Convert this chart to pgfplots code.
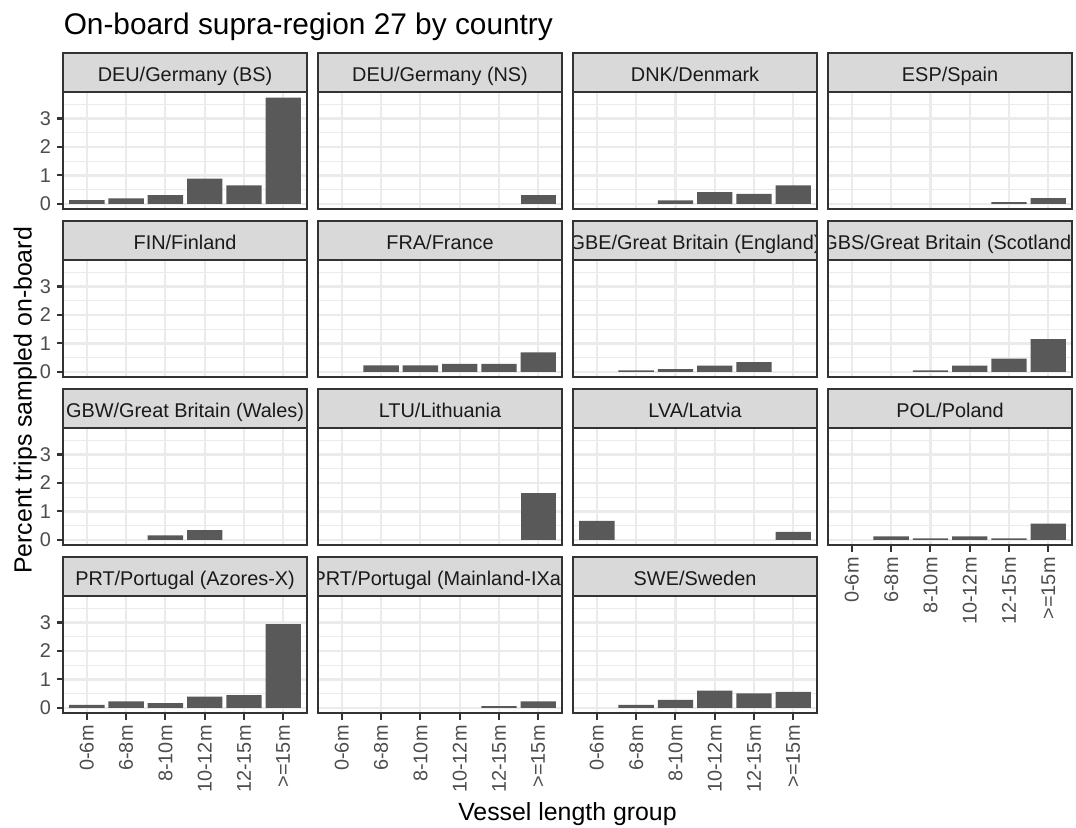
\documentclass[border=0pt]{standalone}
\usepackage{pgfplots}
\pgfplotsset{compat=1.18}
\usepackage{fontspec}
\setmainfont{Liberation Sans}
\definecolor{grid92}{HTML}{EBEBEB}
\definecolor{grey20}{HTML}{333333}
\definecolor{grey30}{HTML}{4D4D4D}
\definecolor{grey10}{HTML}{1A1A1A}
\definecolor{strip85}{HTML}{D9D9D9}
\definecolor{bar35}{HTML}{595959}
\newcommand{\tickfont}{\fontsize{8.8}{10}\selectfont}
\pgfplotsset{
  panel/.style={
    scale only axis, width=107.75pt, height=51.77pt,
    anchor=south west,
    xmin=0.4, xmax=6.6, ymin=-0.19, ymax=3.92,
    xtick={1,2,3,4,5,6}, ytick={0,1,2,3}, minor ytick={0.5,1.5,2.5,3.5},
    grid=both,
    major grid style={color=grid92, line width=0.95pt},
    minor grid style={color=grid92, line width=0.5pt},
    axis line style={draw=grey20, line width=0.9pt},
    xticklabels={}, yticklabels={},
    tick pos=left, tick align=outside, major tick length=2.75pt, minor tick length=0pt,
    xtick style={draw=none}, ytick style={draw=none}, minor tick style={draw=none},
    tick label style={font=\tickfont, text=grey30},
  },
  xlab/.style={
    xtick style={draw=grey20, line width=0.9pt},
    xticklabels={0-6m,6-8m,8-10m,10-12m,12-15m,>=15m},
    x tick label style={rotate=90, anchor=east, inner sep=0pt, xshift=-2.4pt},
  },
  ylab/.style={
    ytick style={draw=grey20, line width=0.9pt},
    yticklabels={0,1,2,3},
    y tick label style={anchor=east, inner sep=0pt, xshift=-2.5pt},
  },
  strip/.style={
    extra description/.append code={
      \begin{scope}
        \clip (0,1) rectangle (1,1.3376);
        \fill[strip85] (0,1) rectangle (1,1.3376);
        \node[font=\tickfont, text=grey10, inner sep=0pt, anchor=base] at (0.5,1.0906) {#1};
      \end{scope}
      \draw[grey20, line width=0.9pt] (0,1) rectangle (1,1.3376);
    }
  },
  bars/.style={ybar, fill=bar35, draw=none, bar width=0.9},
}
\begin{document}
\begin{tikzpicture}
\path[use as bounding box] (0,0) rectangle (476.13pt,-365.95pt);
% row 1
\begin{axis}[panel, ylab, strip={DEU/Germany (BS)}, at={(28.01pt,-92.62pt)}]
\addplot[bars] coordinates {(1,0.13) (2,0.19) (3,0.31) (4,0.89) (5,0.65) (6,3.73)};
\end{axis}
\begin{axis}[panel, strip={DEU/Germany (NS)}, at={(140.85pt,-92.62pt)}]
\addplot[bars] coordinates {(6,0.31)};
\end{axis}
\begin{axis}[panel, strip={DNK/Denmark}, at={(253.69pt,-92.62pt)}]
\addplot[bars] coordinates {(3,0.12) (4,0.41) (5,0.35) (6,0.65)};
\end{axis}
\begin{axis}[panel, strip={ESP/Spain}, at={(366.53pt,-92.62pt)}]
\addplot[bars] coordinates {(5,0.06) (6,0.20)};
\end{axis}
% row 2
\begin{axis}[panel, ylab, strip={FIN/Finland}, at={(28.01pt,-166.96pt)}]
\end{axis}
\begin{axis}[panel, strip={FRA/France}, at={(140.85pt,-166.96pt)}]
\addplot[bars] coordinates {(2,0.23) (3,0.23) (4,0.28) (5,0.28) (6,0.69)};
\end{axis}
\begin{axis}[panel, strip={GBE/Great Britain (England)}, at={(253.69pt,-166.96pt)}]
\addplot[bars] coordinates {(2,0.05) (3,0.10) (4,0.22) (5,0.34)};
\end{axis}
\begin{axis}[panel, strip={GBS/Great Britain (Scotland)}, at={(366.53pt,-166.96pt)}]
\addplot[bars] coordinates {(3,0.05) (4,0.22) (5,0.47) (6,1.15)};
\end{axis}
% row 3
\begin{axis}[panel, ylab, strip={GBW/Great Britain (Wales)}, at={(28.01pt,-241.30pt)}]
\addplot[bars] coordinates {(3,0.16) (4,0.34)};
\end{axis}
\begin{axis}[panel, strip={LTU/Lithuania}, at={(140.85pt,-241.30pt)}]
\addplot[bars] coordinates {(6,1.65)};
\end{axis}
\begin{axis}[panel, strip={LVA/Latvia}, at={(253.69pt,-241.30pt)}]
\addplot[bars] coordinates {(1,0.67) (6,0.28)};
\end{axis}
\begin{axis}[panel, xlab, strip={POL/Poland}, at={(366.53pt,-241.30pt)}]
\addplot[bars] coordinates {(2,0.12) (3,0.05) (4,0.12) (5,0.05) (6,0.57)};
\end{axis}
% row 4
\begin{axis}[panel, ylab, xlab, strip={PRT/Portugal (Azores-X)}, at={(28.01pt,-315.64pt)}]
\addplot[bars] coordinates {(1,0.11) (2,0.23) (3,0.17) (4,0.40) (5,0.45) (6,2.94)};
\end{axis}
\begin{axis}[panel, xlab, strip={PRT/Portugal (Mainland-IXa)}, at={(140.85pt,-315.64pt)}]
\addplot[bars] coordinates {(5,0.06) (6,0.23)};
\end{axis}
\begin{axis}[panel, xlab, strip={SWE/Sweden}, at={(253.69pt,-315.64pt)}]
\addplot[bars] coordinates {(2,0.11) (3,0.28) (4,0.61) (5,0.51) (6,0.56)};
\end{axis}
% titles
\node[anchor=base west, inner sep=0pt, font=\fontsize{13.2}{15}\selectfont, text=black] at (28.01pt,-15.18pt) {On-board supra-region 27 by country};
\node[anchor=base, inner sep=0pt, font=\fontsize{11}{13}\selectfont, text=black] at (251.1pt,-362.85pt) {Vessel length group};
\node[anchor=base, rotate=90, inner sep=0pt, font=\fontsize{11}{13}\selectfont, text=black] at (14.0pt,-177.2pt) {Percent trips sampled on-board};
\end{tikzpicture}
\end{document}
